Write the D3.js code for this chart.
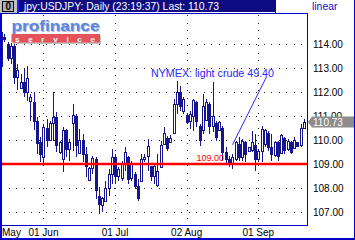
<!DOCTYPE html>
<html>
<head>
<meta charset="utf-8">
<script src="https://d3js.org/d3.v7.min.js"></script>
<style>
body{margin:0;background:#fff}
svg{display:block;font-family:"Liberation Sans",Arial,sans-serif}
</style>
</head>
<body>
<svg id="chart" width="355" height="240"></svg>
<script>
// daily USDJPY candles (one per weekday)
const openP = [113.10,114.30,114.00,113.40,113.90,112.60,112.15,112.40,112.00,111.65,
  111.60,110.80,109.90,109.30,110.50,110.00,110.70,110.95,109.50,109.20,
  110.40,109.60,110.70,111.00,109.45,110.00,109.40,108.35,108.85,109.20,
  107.65,107.30,107.45,108.00,108.60,109.30,108.50,108.40,109.00,109.30,
  108.40,108.60,108.10,108.30,109.20,109.35,108.90,108.50,108.10,108.90,
  109.85,110.10,109.95,110.30,111.50,112.00,111.20,111.05,110.80,111.00,
  111.60,110.60,110.40,110.85,111.50,110.60,110.70,110.40,110.50,109.50,
  109.20,109.00,109.20,109.85,109.30,109.90,109.55,109.55,109.80,109.20,
  109.55,109.80,110.30,109.70,109.35,109.90,109.45,110.10,109.60,109.90,
  109.65,109.90,109.80,110.50];
const highP = [114.83,114.40,114.08,114.04,114.00,113.17,112.75,112.96,113.08,111.92,
  112.00,110.96,110.13,110.67,110.88,110.80,112.00,111.17,109.96,110.54,
  110.46,110.04,111.50,111.08,110.46,110.25,109.71,108.88,109.33,109.29,
  108.04,107.63,108.29,108.79,109.63,109.42,108.88,109.13,109.71,109.33,
  109.13,108.67,108.38,109.42,109.42,110.04,108.92,109.00,109.42,109.96,
  110.54,110.17,110.20,111.71,112.46,112.25,111.79,111.08,111.21,111.71,
  111.63,110.67,111.92,111.71,111.58,112.42,110.79,110.79,110.58,109.71,
  109.33,109.42,109.96,110.13,110.04,109.96,109.71,110.38,110.25,109.63,
  110.58,110.46,110.38,110.25,109.96,109.96,110.25,110.13,110.04,109.96,
  110.13,109.92,110.67,110.88];
const lowP = [113.04,114.10,113.29,113.17,112.33,112.08,112.13,111.79,111.63,110.79,
  110.42,109.42,109.08,109.00,109.71,109.96,109.96,109.50,109.42,108.67,
  109.29,109.13,109.54,109.29,109.42,109.08,108.46,108.29,108.58,107.54,
  106.92,107.00,107.42,107.67,108.17,108.17,108.29,108.29,108.71,108.17,
  108.29,107.96,107.46,108.29,109.08,108.71,108.29,108.17,108.04,108.88,
  109.83,109.54,109.90,110.25,111.08,111.21,111.08,110.67,110.46,110.38,
  110.54,109.75,110.25,110.79,110.25,110.33,109.96,110.38,109.13,109.00,
  108.88,108.79,109.13,109.13,109.13,109.08,109.54,109.50,108.71,109.08,
  109.08,109.71,109.54,109.13,109.29,109.13,109.42,109.42,109.54,109.42,
  109.63,109.71,109.71,110.46];
const closeP = [114.50,114.21,113.40,113.90,112.60,112.90,112.40,112.00,112.60,111.80,
  110.80,109.90,109.40,110.55,110.00,110.70,110.95,109.80,109.90,110.40,
  109.60,109.90,111.05,109.80,110.00,109.40,108.90,108.85,109.25,107.90,
  107.30,107.60,108.00,108.60,109.30,108.50,108.80,109.00,109.50,108.40,
  109.00,108.10,107.60,109.20,109.30,109.75,108.50,108.90,108.70,109.80,
  110.30,109.70,110.10,111.50,112.00,111.40,111.70,110.75,111.10,111.65,
  110.80,110.00,111.40,111.60,110.60,111.00,110.10,110.75,109.50,109.20,
  109.00,109.30,109.90,109.30,109.95,109.40,109.70,109.90,109.20,109.55,
  110.45,110.40,109.70,109.40,109.90,109.30,110.20,109.60,109.95,109.50,
  110.00,109.75,110.50,110.73];

const firstDay = "2004-05-13";
const lastDay = "2004-09-21";
const monthTicks = ["2004-06-01", "2004-07-01", "2004-08-02", "2004-09-01"];
const priceTicks = [107, 108, 109, 110, 111, 112, 113, 114];
const supportLevel = 109.00;
const noteDate = "2004-08-20";
const notePrice = 109.80;
const noteText = "NYMEX: light crude 49.40";
const titleText = "jpy:USDJPY: Daily (23:19:37) Last: 110.73";

const navy = "#16148f", frameBlue = "#0000c8";
const svg = d3.select("#chart");
const parse = d3.utcParse("%Y-%m-%d");

// weekdays between the first and last bar
const days = d3.utcDay.range(parse(firstDay), d3.utcDay.offset(parse(lastDay), 1))
  .filter(d => d.getUTCDay() % 6 !== 0);
const bars = days.map((d, i) => ({date: d, o: openP[i], h: highP[i], l: lowP[i], c: closeP[i]}));

const plotL = 1, plotR = 307, plotB = 225;
const x = d3.scaleBand().domain(days.map(d => +d)).range([-0.5, 305.5]);
const y = d3.scaleLinear().domain([107, 114]).range([212, 44]);
const cx = d => Math.round(x(+d) + x.bandwidth() / 2);

svg.append("rect").attr("width", 355).attr("height", 240).attr("fill", "#fff");

// dotted grid
const grid = svg.append("g").attr("stroke", "#222").attr("stroke-dasharray", "1,6.5").attr("shape-rendering", "crispEdges");
grid.selectAll(".h").data(priceTicks).join("line")
  .attr("x1", plotL).attr("x2", plotR)
  .attr("y1", d => Math.round(y(d)) + 0.5).attr("y2", d => Math.round(y(d)) + 0.5);
grid.selectAll(".v").data(monthTicks.map(parse)).join("line")
  .attr("x1", d => cx(d) + 0.5).attr("x2", d => cx(d) + 0.5)
  .attr("y1", 15).attr("y2", plotB);

// profinance logo
const logo = svg.append("g");
logo.append("text").attr("x", 12.5).attr("y", 32).text("profinance")
  .attr("font-size", 14.5).attr("font-weight", "bold").attr("fill", "#b8b8c8")
  .attr("textLength", 88).attr("lengthAdjust", "spacingAndGlyphs");
logo.append("text").attr("x", 11.5).attr("y", 31).text("profinance")
  .attr("font-size", 14.5).attr("font-weight", "bold").attr("fill", "#5a86e4")
  .attr("textLength", 88).attr("lengthAdjust", "spacingAndGlyphs");
logo.append("rect").attr("x", 13).attr("y", 35.5).attr("width", 88).attr("height", 8.5).attr("fill", "#c4c4c4");
logo.append("rect").attr("x", 11.5).attr("y", 34).attr("width", 88.5).attr("height", 8.5).attr("fill", "#e4525a");
logo.append("text").attr("x", 15).attr("y", 41.5).text("service")
  .attr("font-size", 8).attr("font-weight", "bold").attr("fill", "#fff")
  .attr("textLength", 80).attr("lengthAdjust", "spacing");

// candles
const candle = svg.append("g").attr("shape-rendering", "crispEdges")
  .selectAll("g").data(bars).join("g");
candle.append("line")
  .attr("x1", d => cx(d.date) + 0.5).attr("x2", d => cx(d.date) + 0.5)
  .attr("y1", d => y(d.h)).attr("y2", d => y(d.l))
  .attr("stroke", navy);
candle.append("rect")
  .attr("x", d => cx(d.date) - 0.5).attr("width", 2)
  .attr("y", d => Math.round(y(Math.max(d.o, d.c))) + 0.5)
  .attr("height", d => Math.max(1, Math.round(Math.abs(y(d.o) - y(d.c)))))
  .attr("fill", d => d.c >= d.o ? "#fff" : navy)
  .attr("stroke", navy);

// 109.00 level
svg.append("line").attr("x1", plotL).attr("x2", plotR)
  .attr("y1", y(supportLevel)).attr("y2", y(supportLevel))
  .attr("stroke", "#f00").attr("stroke-width", 2.5);
svg.append("text").attr("x", 196.5).attr("y", y(supportLevel) - 3)
  .attr("font-size", 9).attr("fill", "#f00").text(d3.format(".2f")(supportLevel));

// oil annotation
const nx = cx(parse(noteDate)), ny = y(notePrice);
svg.append("line").attr("x1", nx + 0.5).attr("y1", ny).attr("x2", nx + 34.5).attr("y2", ny - 68)
  .attr("stroke", "#2828ff");
svg.append("text").attr("x", nx + 42).attr("y", ny - 67.5).attr("text-anchor", "end")
  .attr("font-size", 10.7).attr("fill", "#2828ff").text(noteText);

// axes
const yAxis = svg.append("g").attr("transform", "translate(312,0)")
  .call(d3.axisRight(y).tickValues(priceTicks).tickFormat(d3.format(".2f")).tickSize(0).tickPadding(1));
yAxis.select(".domain").remove();
yAxis.selectAll("text").attr("font-size", 10).attr("font-family", "Liberation Sans, Arial, sans-serif").attr("fill", "#000");

const xAxis = svg.append("g").attr("transform", `translate(0,${plotB})`)
  .call(d3.axisBottom(x).tickValues(monthTicks.map(d => +parse(d)))
    .tickFormat(d => d3.utcFormat("%d %b")(new Date(d))).tickSize(0).tickPadding(4));
xAxis.select(".domain").remove();
xAxis.selectAll("text").attr("font-size", 10).attr("font-family", "Liberation Sans, Arial, sans-serif").attr("fill", "#000");
svg.append("text").attr("x", 2).attr("y", 236).attr("font-size", 10).text(d3.utcFormat("%b")(days[0]));

// frame
const frame = svg.append("g").attr("stroke", frameBlue).attr("shape-rendering", "crispEdges");
frame.append("line").attr("x1", 0).attr("x2", plotR + 1).attr("y1", 13.5).attr("y2", 13.5);
frame.append("line").attr("x1", 0).attr("x2", plotR + 1).attr("y1", plotB + 0.5).attr("y2", plotB + 0.5);
frame.append("line").attr("x1", plotR + 0.5).attr("x2", plotR + 0.5).attr("y1", 13).attr("y2", plotB + 1);
frame.append("line").attr("x1", 1).attr("x2", 1).attr("y1", 0).attr("y2", 240).attr("stroke-width", 2);
frame.append("line").attr("x1", 0).attr("x2", 355).attr("y1", 238.75).attr("y2", 238.75).attr("stroke-width", 2.5);
frame.append("line").attr("x1", 354.5).attr("x2", 354.5).attr("y1", 0).attr("y2", 240);

// last price tag
const ly = Math.round(y(closeP[closeP.length - 1]));
svg.append("path")
  .attr("d", `M308,${ly} L312,${ly - 5.5} L354,${ly - 5.5} L354,${ly + 5.5} L312,${ly + 5.5} Z`)
  .attr("fill", "#8c8c8c");
svg.append("text").attr("x", 313).attr("y", ly).attr("dy", "0.35em")
  .attr("font-size", 10).attr("fill", "#fff").text(d3.format(".2f")(closeP[closeP.length - 1]));

// title bar
svg.append("rect").attr("x", 0).attr("y", 0).attr("width", 17).attr("height", 13).attr("fill", "#c0c0c0");
svg.append("rect").attr("x", 2.5).attr("y", 1.5).attr("width", 11).attr("height", 10)
  .attr("fill", "#b0b0b0").attr("stroke", "#000");
svg.append("text").attr("x", 5.5).attr("y", 10).attr("font-size", 10).attr("font-weight", "bold").text("0");
svg.append("rect").attr("x", 17).attr("y", 0).attr("width", 2).attr("height", 13).attr("fill", "#2020ff");
svg.append("rect").attr("x", 19).attr("y", 0).attr("width", 256).attr("height", 12).attr("fill", "#0e0c80");
svg.append("rect").attr("x", 275).attr("y", 0).attr("width", 1).attr("height", 13).attr("fill", frameBlue);
svg.append("text").attr("x", 24).attr("y", 10).attr("font-size", 10.4).attr("fill", "#fff").text(titleText);
svg.append("text").attr("x", 312).attr("y", 10).attr("font-size", 10.4).attr("fill", "#1010c8").text("linear");
</script>
</body>
</html>
